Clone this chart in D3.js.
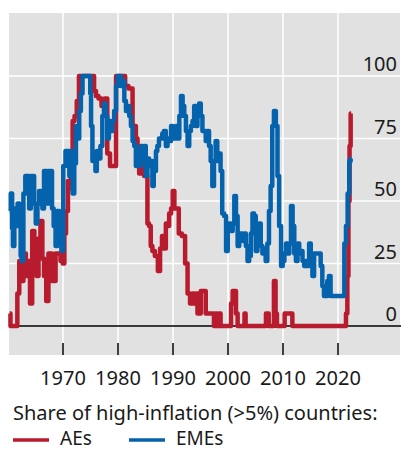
<!DOCTYPE html>
<html>
<head>
<meta charset="utf-8">
<script src="https://cdn.jsdelivr.net/npm/d3@7"></script>
<style>
body { margin: 0; background: #fff; }
text { font-family: "Noto Sans", "Open Sans", sans-serif; fill: #1a1a1a; }
</style>
</head>
<body>
<svg id="chart" width="401" height="450"></svg>
<script>
// share of countries with inflation above 5%, [year, per cent]
var aesData = [
    [1960.3, 5], [1960.6, 0], [1961.5, 0], [1961.9, 13], [1962.2, 26], [1962.5, 18],
    [1963.1, 29], [1963.4, 20], [1963.8, 26], [1964.2, 9], [1964.6, 38], [1965.0, 33],
    [1965.4, 20], [1965.7, 35], [1966.1, 42], [1966.4, 27], [1966.7, 20], [1967.2, 10],
    [1967.5, 29], [1967.8, 29], [1968.2, 18], [1968.5, 18], [1968.8, 29], [1969.3, 29],
    [1969.8, 26], [1970.1, 25], [1970.4, 37], [1970.7, 46], [1971.1, 58], [1971.3, 55],
    [1971.6, 69], [1971.9, 82], [1972.3, 84], [1972.7, 90], [1973.1, 100], [1975.5, 100],
    [1975.8, 94], [1976.2, 92], [1976.7, 91], [1977.3, 88], [1977.9, 91], [1978.2, 69],
    [1978.9, 64], [1979.5, 64], [1979.8, 100], [1981.0, 100], [1981.6, 96], [1982.2, 95],
    [1982.5, 95], [1982.8, 80], [1983.1, 80], [1983.4, 75], [1983.7, 70], [1984.0, 61],
    [1984.3, 70], [1984.6, 66], [1984.9, 60], [1985.2, 60], [1985.5, 41], [1985.8, 40],
    [1986.1, 32], [1986.4, 30], [1987.0, 28], [1987.5, 22], [1987.8, 31], [1988.2, 36],
    [1988.5, 31], [1988.9, 41], [1989.1, 40], [1989.5, 45], [1989.8, 47], [1990.1, 54],
    [1990.4, 47], [1990.8, 47], [1991.3, 37], [1991.9, 36], [1992.5, 25], [1992.8, 13],
    [1993.4, 9], [1993.7, 13], [1994.0, 9], [1994.3, 13], [1994.6, 5], [1994.9, 5],
    [1995.2, 14], [1995.8, 14], [1996.1, 5], [1997.3, 5], [1997.6, 0], [1997.9, 5],
    [1998.2, 0], [1998.5, 5], [1998.8, 0], [2000.4, 0], [2000.7, 9], [2001.0, 14],
    [2001.3, 14], [2001.6, 5], [2001.9, 0], [2002.9, 0], [2003.1, 5], [2003.3, 0],
    [2006.8, 0], [2007.0, 5], [2007.3, 5], [2007.5, 0], [2008.2, 0], [2008.5, 18],
    [2008.8, 5], [2009.0, 0], [2010.2, 0], [2010.4, 5], [2011.6, 5], [2011.8, 0],
    [2021.3, 0], [2021.6, 5], [2021.8, 20], [2022.0, 50], [2022.2, 72], [2022.4, 85]
];

var emesData = [
    [1960.3, 46], [1960.7, 53], [1960.8, 39], [1961.0, 32], [1961.3, 47], [1961.6, 40],
    [1961.9, 49], [1962.2, 40], [1962.4, 28], [1962.6, 26], [1963.0, 53], [1963.3, 60],
    [1963.7, 60], [1964.0, 47], [1964.3, 60], [1964.6, 60], [1964.9, 49], [1965.2, 41],
    [1965.5, 49], [1965.8, 54], [1966.1, 49], [1966.4, 47], [1966.7, 62], [1967.0, 62],
    [1967.2, 49], [1967.5, 62], [1967.9, 62], [1968.1, 47], [1968.5, 40], [1968.8, 32],
    [1969.1, 46], [1969.5, 45], [1969.9, 30], [1970.2, 64], [1970.7, 70], [1971.0, 70],
    [1971.3, 60], [1971.6, 70], [1971.9, 53], [1972.2, 65], [1972.5, 80], [1972.8, 75],
    [1973.1, 86], [1973.4, 93], [1973.7, 100], [1974.9, 100], [1975.0, 93], [1975.2, 80],
    [1975.5, 66], [1975.8, 68], [1976.0, 62], [1976.3, 70], [1976.6, 67], [1977.0, 72],
    [1977.3, 84], [1977.6, 89], [1977.9, 84], [1978.2, 75], [1978.5, 82], [1978.9, 78],
    [1979.1, 82], [1979.5, 86], [1979.8, 96], [1980.1, 100], [1980.4, 100], [1980.7, 96],
    [1981.0, 98], [1981.3, 90], [1981.6, 86], [1981.9, 88], [1982.2, 84], [1982.5, 80],
    [1982.8, 74], [1983.1, 72], [1983.4, 64], [1983.7, 70], [1984.0, 64], [1984.3, 72],
    [1984.6, 66], [1984.9, 72], [1985.2, 60], [1985.5, 67], [1985.8, 64], [1986.1, 66],
    [1986.4, 56], [1986.6, 62], [1986.8, 62], [1987.0, 70], [1987.3, 72], [1987.6, 75],
    [1987.9, 75], [1988.2, 77], [1988.5, 78], [1988.9, 72], [1989.1, 75], [1989.5, 74],
    [1989.8, 80], [1990.1, 75], [1990.4, 77], [1990.7, 80], [1991.0, 75], [1991.3, 84],
    [1991.6, 92], [1991.9, 88], [1992.2, 84], [1992.5, 78], [1992.8, 72], [1993.1, 78],
    [1993.4, 80], [1993.7, 82], [1994.0, 88], [1994.3, 80], [1994.6, 88], [1994.9, 89],
    [1995.2, 84], [1995.5, 78], [1995.8, 78], [1996.1, 74], [1996.4, 78], [1996.7, 72],
    [1997.0, 66], [1997.3, 56], [1997.6, 66], [1997.9, 74], [1998.2, 66], [1998.5, 69],
    [1998.8, 62], [1999.1, 45], [1999.5, 44], [1999.8, 30], [2000.1, 40], [2000.4, 41],
    [2000.7, 38], [2001.0, 41], [2001.3, 52], [2001.6, 44], [2001.9, 32], [2002.2, 37],
    [2002.5, 37], [2002.8, 34], [2003.1, 37], [2003.4, 32], [2003.7, 26], [2004.0, 28],
    [2004.3, 37], [2004.6, 45], [2004.9, 44], [2005.2, 30], [2005.5, 40], [2005.8, 41],
    [2006.1, 32], [2006.4, 29], [2006.7, 31], [2007.0, 26], [2007.3, 33], [2007.6, 46],
    [2007.9, 56], [2008.2, 80], [2008.5, 86], [2008.9, 80], [2009.1, 60], [2009.5, 40],
    [2009.8, 24], [2010.1, 26], [2010.4, 29], [2010.7, 33], [2011.0, 29], [2011.3, 33],
    [2011.6, 48], [2011.9, 40], [2012.2, 29], [2012.5, 26], [2012.8, 33], [2013.1, 29],
    [2013.4, 30], [2013.7, 26], [2014.0, 24], [2014.3, 26], [2014.6, 24], [2014.9, 33],
    [2015.2, 29], [2015.5, 20], [2015.8, 29], [2016.1, 29], [2016.7, 29], [2017.0, 24],
    [2017.3, 16], [2017.6, 12], [2017.9, 12], [2018.2, 18], [2018.5, 20], [2018.8, 12],
    [2021.0, 12], [2021.3, 33], [2021.6, 40], [2021.9, 53], [2022.2, 66], [2022.4, 67]
];

var yearTicks = [1970, 1980, 1990, 2000, 2010, 2020];
var valueTicks = [0, 25, 50, 75, 100];
var legendTitle = "Share of high-inflation (>5%) countries:";
var seriesNames = ["AEs", "EMEs"];
var seriesColors = ["#b81b2e", "#0563ad"];

var svg = d3.select("#chart");
var x = d3.scaleLinear().domain([1960, 2030]).range([8, 393]);
var y = d3.scaleLinear().domain([0, 100]).range([326, 76]);

var plotLeft = 9, plotRight = 400, plotTop = 13, plotBottom = 355;

svg.append("rect")
    .attr("x", plotLeft).attr("y", plotTop)
    .attr("width", plotRight - plotLeft).attr("height", plotBottom - plotTop)
    .attr("fill", "#e1e1e1");

// grid
svg.append("g").selectAll("line").data(yearTicks).enter().append("line")
    .attr("x1", function(d) { return x(d); }).attr("x2", function(d) { return x(d); })
    .attr("y1", plotTop).attr("y2", plotBottom)
    .attr("stroke", "#fff").attr("stroke-width", 1.5);

svg.append("g").selectAll("line").data(valueTicks.filter(function(d) { return d > 0; })).enter().append("line")
    .attr("x1", plotLeft).attr("x2", plotRight)
    .attr("y1", function(d) { return y(d); }).attr("y2", function(d) { return y(d); })
    .attr("stroke", "#fff").attr("stroke-width", 1.5);

svg.append("line")
    .attr("x1", plotLeft).attr("x2", 401)
    .attr("y1", y(0)).attr("y2", y(0))
    .attr("stroke", "#000").attr("stroke-width", 1.5);

// y labels inside the plot, right side
svg.append("g").selectAll("text").data(valueTicks).enter().append("text")
    .attr("x", 397)
    .attr("y", function(d) { return y(d) - 5; })
    .attr("text-anchor", "end")
    .attr("font-size", 20)
    .text(function(d) { return d; });

// x ticks and labels
svg.append("g").selectAll("line").data(yearTicks).enter().append("line")
    .attr("x1", function(d) { return x(d); }).attr("x2", function(d) { return x(d); })
    .attr("y1", 343).attr("y2", plotBottom)
    .attr("stroke", "#000").attr("stroke-width", 1.5);

svg.append("g").selectAll("text").data(yearTicks).enter().append("text")
    .attr("x", function(d) { return x(d); })
    .attr("y", 385)
    .attr("text-anchor", "middle")
    .attr("font-size", 20)
    .text(function(d) { return d; });

// series
var line = d3.line()
    .curve(d3.curveStep)
    .x(function(d) { return x(d[0]); })
    .y(function(d) { return y(d[1]); });

[aesData, emesData].forEach(function(s, i) {
    svg.append("path")
        .attr("d", line(s))
        .attr("fill", "none")
        .attr("stroke", seriesColors[i])
        .attr("stroke-width", 4.5)
        .attr("stroke-linejoin", "round");
});

// legend
svg.append("text")
    .attr("x", 13).attr("y", 420)
    .attr("font-size", 20)
    .text(legendTitle);

var lg = svg.append("g").selectAll("g").data(seriesNames).enter().append("g")
    .attr("transform", function(d, i) { return "translate(" + (13 + i * 116) + ",0)"; });
lg.append("line")
    .attr("x1", 0).attr("x2", 36).attr("y1", 440).attr("y2", 440)
    .attr("stroke", function(d, i) { return seriesColors[i]; })
    .attr("stroke-width", 3.5);
lg.append("text")
    .attr("x", 47).attr("y", 445)
    .attr("font-size", 19)
    .text(function(d) { return d; });
</script>
</body>
</html>
